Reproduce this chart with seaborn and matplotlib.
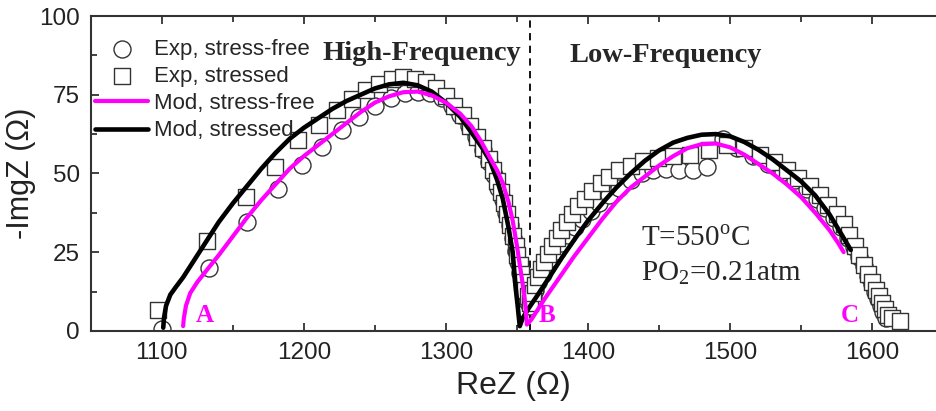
import matplotlib
matplotlib.use("Agg")
import matplotlib.pyplot as plt
import seaborn as sns
from matplotlib.ticker import MultipleLocator

# experimental points, stress-free (circles)
exp_free_x = [1100, 1133, 1160, 1182, 1199, 1213, 1227, 1239, 1250, 1261, 1271, 1280,
              1289, 1297, 1304, 1310, 1316, 1321, 1326, 1330, 1334, 1337, 1340, 1342,
              1345, 1347, 1349, 1351, 1352, 1354, 1355, 1357,
              1359, 1361, 1363, 1365, 1368, 1371, 1374, 1378, 1382, 1386, 1391, 1396,
              1402, 1408, 1415, 1422, 1430, 1438, 1446, 1455, 1464, 1474, 1484, 1495,
              1505, 1516, 1527, 1537, 1546, 1554, 1561, 1567, 1573, 1578, 1583, 1587,
              1591, 1594, 1597, 1600, 1602, 1604, 1606, 1608, 1610]
exp_free_y = [0.5, 20, 34.7, 45, 52.7, 58.4, 63.8, 68, 71.5, 74, 75.5, 76,
              75.5, 74, 71.5, 68.5, 65, 61.5, 57.5, 53.5, 49.5, 45.5, 41.5, 37.5,
              33.5, 29.5, 25.5, 22, 18.5, 15, 12, 9.5,
              8, 10.5, 13, 15.5, 18, 20.5, 23, 25.5, 28, 30.5, 33, 35.5,
              38, 40.5, 43, 45.5, 48, 50, 51, 51.5, 51, 51, 52, 61,
              58, 55.5, 53, 50.5, 48, 45, 42, 39, 36, 33, 29.5, 26.5,
              23.5, 20.5, 17.5, 15, 12.5, 10, 8, 6, 4]

# experimental points, stressed (squares)
exp_str_x = [1097, 1132, 1159, 1180, 1196, 1211, 1223, 1234, 1244, 1253, 1262, 1270,
             1278, 1286, 1293, 1300, 1306, 1312, 1317, 1322, 1326, 1330, 1333, 1336,
             1339, 1341, 1343, 1345, 1347, 1349, 1350, 1352, 1353, 1355, 1356, 1358,
             1359, 1361, 1363, 1365, 1367, 1369, 1372, 1375, 1378, 1381, 1385, 1389,
             1393, 1398, 1403, 1409, 1415, 1422, 1430, 1439, 1449, 1460, 1472, 1485,
             1498, 1510, 1521, 1531, 1540, 1548, 1556, 1563, 1569, 1575, 1580, 1584,
             1588, 1591, 1594, 1597, 1600, 1603, 1605, 1607, 1609, 1611, 1614, 1620]
exp_str_y = [6.5, 28.5, 42.5, 52, 60.5, 65.5, 70, 73.5, 76.5, 78.5, 80, 80.5,
             80, 79, 77, 74.5, 71.5, 68.5, 65, 61.5, 58, 54.5, 51, 47.5,
             44, 40.5, 37, 33.5, 30, 27, 24, 21, 18, 15.5, 13, 11,
             9, 12, 14.5, 17, 19.5, 22, 24.5, 27, 29.5, 32, 34.5, 37,
             39.5, 42, 44.5, 47, 49, 51, 52.5, 54, 55, 55.5, 56, 57.5,
             59, 58, 56, 53.5, 51, 48.5, 46, 43, 40, 37, 34, 30.5,
             27, 24, 21, 18, 15.5, 13, 11, 9, 7, 5, 4, 3]

# model curve, stress-free (magenta)
mod_free_x = [1115, 1115.5, 1117, 1120, 1125, 1132, 1140, 1150, 1160, 1170, 1180, 1190,
              1200, 1210, 1220, 1230, 1240, 1250, 1260, 1270, 1280, 1290, 1300, 1310,
              1318, 1325, 1331, 1336, 1340, 1344, 1347, 1350, 1352, 1354, 1356, 1357,
              1360, 1365, 1370, 1380, 1390, 1400, 1410, 1420, 1430, 1440, 1450, 1460,
              1470, 1480, 1490, 1500, 1510, 1520, 1530, 1540, 1550, 1560, 1570, 1576,
              1580]
mod_free_y = [1.5, 4, 8, 12, 15.5, 19.5, 24, 30, 36, 41.5, 46.5, 51.5,
              55.5, 59, 62.5, 66, 69.5, 72.5, 74.5, 75.8, 76, 74.8, 72.5, 69,
              65, 60, 55, 51, 47, 41, 35, 27, 21, 15, 8, 2,
              3.5, 7, 10.5, 17, 23.5, 29.5, 35.5, 41, 45.5, 49, 52.5, 55.5,
              58, 59.3, 59.5, 58.3, 56, 53, 50, 46.5, 42.5, 37.5, 32, 28,
              25]

# model curve, stressed (black)
mod_str_x = [1101, 1101.5, 1103, 1106, 1110, 1115, 1120, 1130, 1140, 1150, 1160, 1170,
             1180, 1190, 1200, 1210, 1220, 1230, 1240, 1250, 1260, 1270, 1280, 1290,
             1300, 1310, 1318, 1325, 1331, 1336, 1340, 1344, 1347, 1349, 1350.5, 1351.5,
             1352, 1354, 1358, 1364, 1372, 1382, 1392, 1400, 1411, 1420, 1430, 1440,
             1450, 1460, 1470, 1480, 1490, 1500, 1510, 1520, 1530, 1540, 1550, 1560,
             1570, 1578, 1585]
mod_str_y = [1, 4, 8, 11.5, 14, 17, 20.5, 27.5, 34.5, 40.5, 46, 51.5,
             56.5, 61, 64.5, 67.5, 70.5, 73, 75, 77, 78.3, 78.8, 78, 76,
             72.5, 68, 63, 58.5, 54, 48, 42, 33, 25, 14, 8, 3.5,
             1.5, 4, 7, 11, 16.5, 23.5, 30, 35, 41, 45.5, 50, 54,
             57.3, 59.8, 61.3, 62.3, 62.5, 61.8, 60, 57.5, 54.5, 51, 47.5, 43,
             37, 31, 25.7]

legend_labels = ["Exp, stress-free", "Exp, stressed", "Mod, stress-free", "Mod, stressed"]
point_labels = ["A", "B", "C"]
point_x = [1130, 1371, 1584]
x_ticks = [1100, 1200, 1300, 1400, 1500, 1600]
y_ticks = [0, 25, 50, 75, 100]

sns.set_style("ticks")
plt.rcParams['font.family'] = ['Liberation Sans', 'DejaVu Sans']
plt.rcParams['mathtext.fontset'] = 'custom'
plt.rcParams['mathtext.rm'] = 'Liberation Serif'

MAGENTA = '#ff00ff'
EDGE = '#333333'

fig = plt.figure(figsize=(9.36, 4.11), dpi=100)
ax = fig.add_axes([0.097, 0.195, 0.903, 0.766])

sns.scatterplot(x=exp_free_x, y=exp_free_y, marker='o', s=150, facecolor='white',
                edgecolor=EDGE, linewidth=1, label=legend_labels[0], ax=ax, zorder=2)
sns.scatterplot(x=exp_str_x, y=exp_str_y, marker='s', s=140, facecolor='white',
                edgecolor=EDGE, linewidth=1, label=legend_labels[1], ax=ax, zorder=3)
sns.lineplot(x=mod_str_x, y=mod_str_y, sort=False, estimator=None, color='black',
             linewidth=3.3, label=legend_labels[3], ax=ax, zorder=4)
sns.lineplot(x=mod_free_x, y=mod_free_y, sort=False, estimator=None, color=MAGENTA,
             linewidth=3.0, label=legend_labels[2], ax=ax, zorder=5)

ax.axvline(1359, color='black', linestyle=(0, (4, 3)), linewidth=1.3, zorder=1)

ax.set_xlim(1050, 1645)
ax.set_ylim(0, 100)
ax.set_xticks(x_ticks)
ax.set_yticks(y_ticks)
ax.xaxis.set_minor_locator(MultipleLocator(50))
ax.yaxis.set_minor_locator(MultipleLocator(12.5))
ax.tick_params(which='both', direction='in', top=True, right=False, width=1.3,
               color=EDGE, labelsize=17.5, labelcolor='#222222', pad=8)
ax.tick_params(which='major', length=6)
ax.tick_params(which='minor', length=4)
for side in ['left', 'bottom', 'top']:
    ax.spines[side].set_linewidth(1.5)
    ax.spines[side].set_color(EDGE)
ax.spines['right'].set_visible(False)

ax.set_xlabel('ReZ (\u03a9)', fontsize=23, color='#222222', labelpad=5)
ax.set_ylabel('-ImgZ (\u03a9)', fontsize=22, color='#222222', labelpad=2)

# region headings and conditions
ax.text(1213, 86, 'High-Frequency', family='Liberation Serif', fontweight='bold',
        fontsize=20.5, ha='left', va='baseline')
ax.text(1387, 85.5, 'Low-Frequency', family='Liberation Serif', fontweight='bold',
        fontsize=20.5, ha='left', va='baseline')
ax.text(1437, 27, 'T=550$^{\\mathrm{o}}$C', family='Liberation Serif', fontsize=21,
        ha='left', va='baseline')
ax.text(1437, 16.2, 'PO$_{\\mathrm{2}}$=0.21atm', family='Liberation Serif', fontsize=21,
        ha='left', va='baseline')
for lab, px in zip(point_labels, point_x):
    ax.text(px, 1.3, lab, family='Liberation Serif', fontweight='bold', fontsize=18,
            color=MAGENTA, ha='center', va='bottom')

handles, labels = ax.get_legend_handles_labels()
order = [labels.index(l) for l in legend_labels]
ax.legend([handles[i] for i in order], [labels[i] for i in order],
          loc='upper left', bbox_to_anchor=(0.005, 0.928), frameon=False,
          fontsize=16, handlelength=2.4, handletextpad=0.25, labelspacing=0.28,
          borderpad=0, borderaxespad=0)

fig.savefig('out.png', dpi=100)
